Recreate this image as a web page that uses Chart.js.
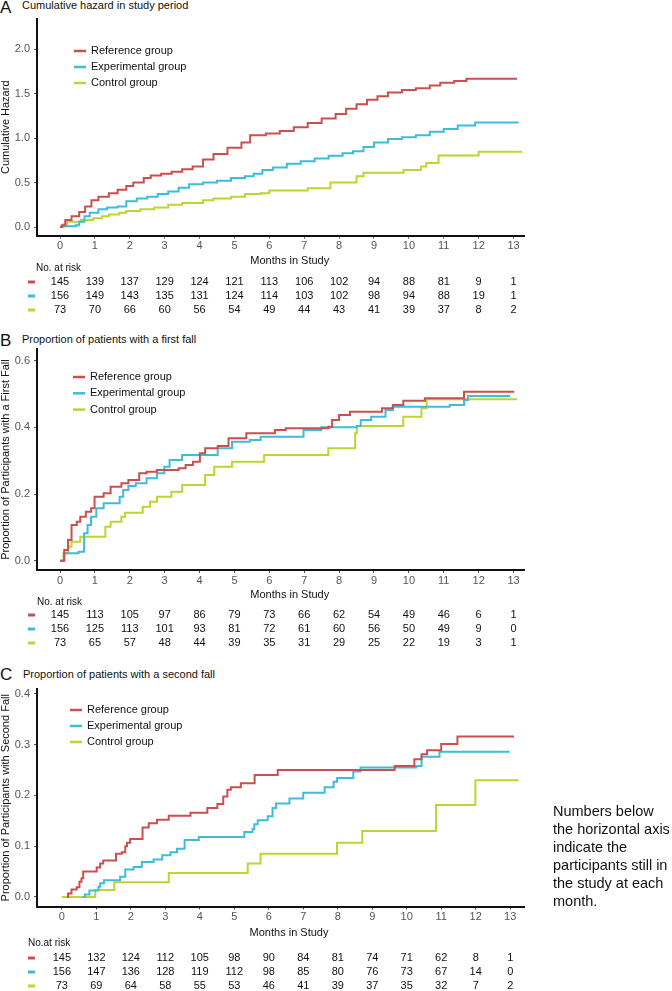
<!DOCTYPE html>
<html>
<head>
<meta charset="utf-8">
<script src="https://cdn.jsdelivr.net/npm/chart.js@4.4.1/dist/chart.umd.min.js"></script>
<style>
  body { margin: 0; background: #fff; }
  #page { position: relative; width: 672px; height: 991px; overflow: hidden;
          font-family: "Liberation Sans", Arial, sans-serif; color: #111; }
  canvas { position: absolute; left: 0; }
  .letter { position: absolute; left: 0; font-size: 17px; line-height: 17px; }
  .ptitle { position: absolute; left: 22px; font-size: 11px; line-height: 11px; white-space: nowrap; }
  #note { position: absolute; left: 553px; top: 802px; font-size: 14.5px; line-height: 18px; white-space: nowrap; }
</style>
</head>
<body>
<div id="page">
  <div class="letter" style="top:-1px">A</div>
  <div class="ptitle" style="top:0px">Cumulative hazard in study period</div>
  <div class="letter" style="top:332px">B</div>
  <div class="ptitle" style="top:334px">Proportion of patients with a first fall</div>
  <div class="letter" style="top:666px">C</div>
  <div class="ptitle" style="top:669px;left:23px">Proportion of patients with a second fall</div>

  <canvas id="chartA" width="672" height="322" style="top:0px"></canvas>
  <canvas id="chartB" width="672" height="338" style="top:322px"></canvas>
  <canvas id="chartC" width="672" height="331" style="top:660px"></canvas>

  <div id="note">Numbers below<br>the horizontal axis<br>indicate the<br>participants still in<br>the study at each<br>month.</div>
</div>
<script>
var months = [0, 1, 2, 3, 4, 5, 6, 7, 8, 9, 10, 11, 12, 13];
var groups = ['Reference group', 'Experimental group', 'Control group'];
var colors = ['#C9504F', '#3DBDD8', '#BDD431'];

// A: cumulative hazard (time in months, value)
var tA_ref = [0, 0.05, 0.15, 0.33, 0.55, 0.72, 0.9, 1.1, 1.4, 1.65, 1.9, 2.1, 2.4, 2.6, 2.9, 3.2, 3.5, 3.8, 4.1, 4.4, 4.8, 5.2, 5.45, 5.9, 6.3, 6.7, 7.1, 7.5, 7.9, 8.2, 8.5, 8.8, 9.1, 9.4, 9.8, 10.2, 10.6, 10.9, 11.3, 11.65, 13.1];
var vA_ref = [0, 0.02, 0.08, 0.12, 0.17, 0.23, 0.3, 0.34, 0.38, 0.42, 0.46, 0.5, 0.55, 0.58, 0.6, 0.62, 0.65, 0.68, 0.76, 0.82, 0.89, 0.95, 1.03, 1.05, 1.08, 1.12, 1.17, 1.22, 1.27, 1.33, 1.38, 1.43, 1.47, 1.51, 1.54, 1.56, 1.59, 1.62, 1.64, 1.665, 1.665];
var tA_exp = [0, 0.05, 0.45, 0.55, 0.7, 0.85, 1.1, 1.35, 1.65, 1.9, 2.2, 2.5, 2.8, 3.1, 3.4, 3.7, 4.1, 4.5, 4.9, 5.3, 5.55, 5.8, 6.1, 6.5, 6.9, 7.3, 7.7, 8.1, 8.4, 8.7, 9.0, 9.4, 9.8, 10.2, 10.6, 11.0, 11.4, 11.9, 13.15];
var vA_exp = [0, 0.01, 0.02, 0.06, 0.12, 0.16, 0.2, 0.22, 0.23, 0.29, 0.32, 0.34, 0.37, 0.4, 0.44, 0.48, 0.5, 0.52, 0.55, 0.57, 0.6, 0.64, 0.67, 0.71, 0.74, 0.77, 0.8, 0.83, 0.85, 0.9, 0.95, 0.99, 1.01, 1.03, 1.07, 1.1, 1.14, 1.175, 1.175];
var tA_ctl = [0, 0.1, 0.2, 0.6, 0.95, 1.2, 1.4, 1.7, 1.9, 2.3, 2.7, 3.1, 3.5, 4.1, 4.4, 4.9, 5.3, 5.75, 6.0, 7.1, 7.75, 8.5, 8.7, 9.85, 10.35, 10.5, 10.85, 12.0, 13.25];
var vA_ctl = [0, 0.03, 0.06, 0.08, 0.1, 0.12, 0.14, 0.16, 0.18, 0.2, 0.22, 0.25, 0.27, 0.3, 0.32, 0.34, 0.37, 0.38, 0.41, 0.435, 0.5, 0.57, 0.61, 0.64, 0.68, 0.72, 0.805, 0.845, 0.845];

// B: first fall
var tB_ref = [0, 0.12, 0.23, 0.33, 0.48, 0.58, 0.74, 0.89, 0.99, 1.25, 1.45, 1.76, 1.96, 2.27, 2.48, 2.78, 3.4, 3.6, 3.81, 4.01, 4.16, 4.52, 4.83, 5.34, 6.16, 6.47, 7.69, 7.8, 8.0, 8.31, 9.23, 9.54, 9.84, 10.46, 11.58, 13.02];
var vB_ref = [0, 0.032, 0.062, 0.107, 0.117, 0.132, 0.147, 0.157, 0.192, 0.202, 0.222, 0.232, 0.242, 0.262, 0.267, 0.272, 0.277, 0.287, 0.297, 0.322, 0.337, 0.344, 0.367, 0.382, 0.392, 0.397, 0.402, 0.422, 0.437, 0.447, 0.457, 0.467, 0.48, 0.487, 0.507, 0.507];
var tB_exp = [0, 0.12, 0.53, 0.69, 0.79, 0.89, 1.04, 1.25, 1.71, 1.81, 1.96, 2.17, 2.48, 2.78, 2.99, 3.14, 3.5, 4.52, 4.93, 5.44, 5.75, 6.98, 7.49, 8.51, 8.62, 8.92, 9.33, 9.54, 11.17, 11.58, 11.69, 12.9];
var vB_exp = [0, 0.022, 0.027, 0.082, 0.107, 0.132, 0.157, 0.172, 0.192, 0.212, 0.224, 0.232, 0.247, 0.262, 0.282, 0.302, 0.317, 0.337, 0.357, 0.362, 0.372, 0.392, 0.4, 0.404, 0.422, 0.432, 0.452, 0.462, 0.467, 0.482, 0.494, 0.494];
var tB_ctl = [0, 0.1, 0.23, 0.33, 0.58, 1.3, 1.45, 1.76, 1.86, 2.37, 2.58, 2.78, 3.19, 3.5, 4.16, 4.42, 4.93, 5.85, 7.69, 8.46, 8.51, 9.84, 10.36, 10.51, 13.1];
var vB_ctl = [0, 0.022, 0.042, 0.057, 0.072, 0.102, 0.117, 0.132, 0.144, 0.162, 0.177, 0.192, 0.207, 0.227, 0.257, 0.282, 0.297, 0.317, 0.337, 0.382, 0.404, 0.432, 0.457, 0.484, 0.484];

// C: second fall (reference and experimental curves begin at their first event)
var tC_ref = [0.15, 0.18, 0.28, 0.43, 0.51, 0.57, 0.62, 1.01, 1.11, 1.2, 1.57, 1.74, 1.84, 1.89, 1.98, 2.34, 2.52, 2.76, 3.1, 3.73, 4.22, 4.51, 4.68, 4.8, 4.9, 5.19, 5.59, 6.26, 9.65, 10.22, 10.43, 10.59, 11.0, 11.47, 13.11];
var vC_ref = [0, 0.007, 0.015, 0.019, 0.03, 0.037, 0.05, 0.058, 0.066, 0.072, 0.085, 0.088, 0.1, 0.107, 0.114, 0.137, 0.145, 0.152, 0.16, 0.166, 0.175, 0.183, 0.198, 0.211, 0.216, 0.224, 0.24, 0.25, 0.258, 0.271, 0.281, 0.289, 0.301, 0.316, 0.316];
var tC_exp = [0.6, 0.64, 0.67, 0.8, 1.06, 1.11, 1.22, 1.69, 1.84, 2.08, 2.32, 2.66, 2.91, 3.15, 3.34, 3.56, 3.97, 5.29, 5.53, 5.58, 5.68, 5.97, 6.11, 6.21, 6.6, 7.0, 7.62, 7.88, 7.98, 8.45, 8.66, 10.27, 10.43, 10.95, 12.98];
var vC_exp = [0, 0, 0.005, 0.013, 0.02, 0.027, 0.033, 0.04, 0.054, 0.059, 0.069, 0.074, 0.082, 0.088, 0.095, 0.112, 0.118, 0.128, 0.134, 0.143, 0.151, 0.159, 0.175, 0.184, 0.194, 0.205, 0.216, 0.227, 0.234, 0.247, 0.255, 0.258, 0.276, 0.286, 0.286];
var tC_ctl = [0, 0.97, 1.52, 3.1, 5.39, 5.76, 7.98, 8.71, 10.85, 11.99, 13.24];
var vC_ctl = [0, 0.014, 0.029, 0.047, 0.066, 0.085, 0.107, 0.13, 0.181, 0.23, 0.23];

// numbers at risk per month
var riskA_ref = [145, 139, 137, 129, 124, 121, 113, 106, 102, 94, 88, 81, 9, 1];
var riskA_exp = [156, 149, 143, 135, 131, 124, 114, 103, 102, 98, 94, 88, 19, 1];
var riskA_ctl = [73, 70, 66, 60, 56, 54, 49, 44, 43, 41, 39, 37, 8, 2];
var riskB_ref = [145, 113, 105, 97, 86, 79, 73, 66, 62, 54, 49, 46, 6, 1];
var riskB_exp = [156, 125, 113, 101, 93, 81, 72, 61, 60, 56, 50, 49, 9, 0];
var riskB_ctl = [73, 65, 57, 48, 44, 39, 35, 31, 29, 25, 22, 19, 3, 1];
var riskC_ref = [145, 132, 124, 112, 105, 98, 90, 84, 81, 74, 71, 62, 8, 1];
var riskC_exp = [156, 147, 136, 128, 119, 112, 98, 85, 80, 76, 73, 67, 14, 0];
var riskC_ctl = [73, 69, 64, 58, 55, 53, 46, 41, 39, 37, 35, 32, 7, 2];

var yTicksA = [0, 0.5, 1, 1.5, 2];
var yTicksB = [0, 0.2, 0.4, 0.6];
var yTicksC = [0, 0.1, 0.2, 0.3, 0.4];

var FONT = '"Liberation Sans", Arial, sans-serif';

function steps(t, v) {
    return t.map(function (x, i) { return {x: x, y: v[i]}; });
}

// x axis title, legend and the number-at-risk table
var kmExtras = {
    id: 'kmExtras',
    afterDraw: function (chart, args, o) {
	var ctx = chart.ctx;
	var xs = chart.scales.x;
	ctx.save();
	ctx.textBaseline = 'middle';
	ctx.fillStyle = '#111';
	ctx.font = '11px ' + FONT;
	ctx.textAlign = 'center';
	ctx.fillText('Months in Study', xs.getPixelForValue(6.5) + 3, o.titleY);

	chart.data.datasets.forEach(function (ds, i) {
	    var y = o.legendY + i * o.legendGap;
	    ctx.strokeStyle = ds.borderColor;
	    ctx.lineWidth = 2.5;
	    ctx.beginPath();
	    ctx.moveTo(o.legendX, y);
	    ctx.lineTo(o.legendX + 12, y);
	    ctx.stroke();
	    ctx.textAlign = 'left';
	    ctx.fillText(ds.label, o.legendX + 17, y);
	});

	ctx.font = '10px ' + FONT;
	ctx.textAlign = 'left';
	ctx.fillText(o.riskLabel, o.riskLabelX, o.riskLabelY);
	ctx.font = '11px ' + FONT;
	o.risk.forEach(function (row, i) {
	    var y = o.riskY + i * 14;
	    ctx.strokeStyle = colors[i];
	    ctx.lineWidth = 3;
	    ctx.beginPath();
	    ctx.moveTo(28, y);
	    ctx.lineTo(35, y);
	    ctx.stroke();
	    ctx.textAlign = 'center';
	    row.forEach(function (n, j) {
		ctx.fillText(String(n), xs.getPixelForValue(months[j]), y);
	    });
	});
	ctx.restore();
    }
};

function makeChart(id, cfg) {
    return new Chart(document.getElementById(id), {
	type: 'line',
	data: {
	    datasets: cfg.curves.map(function (c, i) {
		return {
		    label: groups[i],
		    data: steps(c[0], c[1]),
		    borderColor: colors[i],
		    backgroundColor: colors[i],
		    borderWidth: 2,
		    pointRadius: 0,
		    stepped: 'before',
		    fill: false
		};
	    })
	},
	options: {
	    responsive: false,
	    animation: false,
	    layout: { padding: { top: cfg.top, right: 148, left: 0, bottom: 0 } },
	    plugins: {
		legend: { display: false },
		tooltip: { enabled: false },
		kmExtras: cfg.extras
	    },
	    scales: {
		x: {
		    type: 'linear',
		    min: cfg.xmin,
		    max: cfg.xmax,
		    afterFit: function (s) { s.height = cfg.xh; },
		    afterBuildTicks: function (s) {
			s.ticks = months.map(function (m) { return {value: m}; });
		    },
		    grid: { drawOnChartArea: false, drawTicks: true, tickLength: 3, color: '#555' },
		    border: { display: true, color: '#111', width: 2 },
		    ticks: {
			autoSkip: false, maxRotation: 0, padding: 1,
			color: '#555', font: { family: FONT, size: 11 },
			callback: function (v) { return v; }
		    }
		},
		y: {
		    min: cfg.ymin,
		    max: cfg.ymax,
		    afterFit: function (s) { s.width = 37; },
		    afterBuildTicks: function (s) {
			s.ticks = cfg.yTicks.map(function (m) { return {value: m}; });
		    },
		    grid: { drawOnChartArea: false, drawTicks: true, tickLength: 3, color: '#555' },
		    border: { display: true, color: '#111', width: 2 },
		    ticks: {
			padding: 4, color: '#555', font: { family: FONT, size: 11 },
			callback: function (v) { return v.toFixed(1); }
		    },
		    title: {
			display: true, text: cfg.yTitle, color: '#111',
			padding: 0, font: { family: FONT, size: 11, lineHeight: 1 }
		    }
		}
	    }
	},
	plugins: [kmExtras]
    });
}

makeChart('chartA', {
    curves: [[tA_ref, vA_ref], [tA_exp, vA_exp], [tA_ctl, vA_ctl]],
    top: 19, xh: 86.5,
    xmin: -0.66, xmax: 13.3, ymin: -0.095, ymax: 2.337,
    yTicks: yTicksA, yTitle: 'Cumulative Hazard',
    extras: {
	titleY: 261, legendX: 74, legendY: 51, legendGap: 16,
	riskLabel: 'No. at risk', riskLabelX: 36, riskLabelY: 268,
	riskY: 282, risk: [riskA_ref, riskA_exp, riskA_ctl]
    }
});

makeChart('chartB', {
    curves: [[tB_ref, vB_ref], [tB_exp, vB_exp], [tB_ctl, vB_ctl]],
    top: 27, xh: 90,
    xmin: -0.66, xmax: 13.3, ymin: -0.028, ymax: 0.635,
    yTicks: yTicksB, yTitle: 'Proportion of Participants with a First Fall',
    extras: {
	titleY: 273, legendX: 73, legendY: 55, legendGap: 16.3,
	riskLabel: 'No. at risk', riskLabelX: 37, riskLabelY: 280,
	riskY: 293, risk: [riskB_ref, riskB_exp, riskB_ctl]
    }
});

makeChart('chartC', {
    curves: [[tC_ref, vC_ref], [tC_exp, vC_exp], [tC_ctl, vC_ctl]],
    top: 29, xh: 84.5,
    xmin: -0.72, xmax: 13.4, ymin: -0.0187, ymax: 0.4094,
    yTicks: yTicksC, yTitle: 'Proportion of Participants with Second Fall',
    extras: {
	titleY: 273, legendX: 70, legendY: 50, legendGap: 16,
	riskLabel: 'No.at risk', riskLabelX: 28, riskLabelY: 283,
	riskY: 298, risk: [riskC_ref, riskC_exp, riskC_ctl]
    }
});
</script>
</body>
</html>
